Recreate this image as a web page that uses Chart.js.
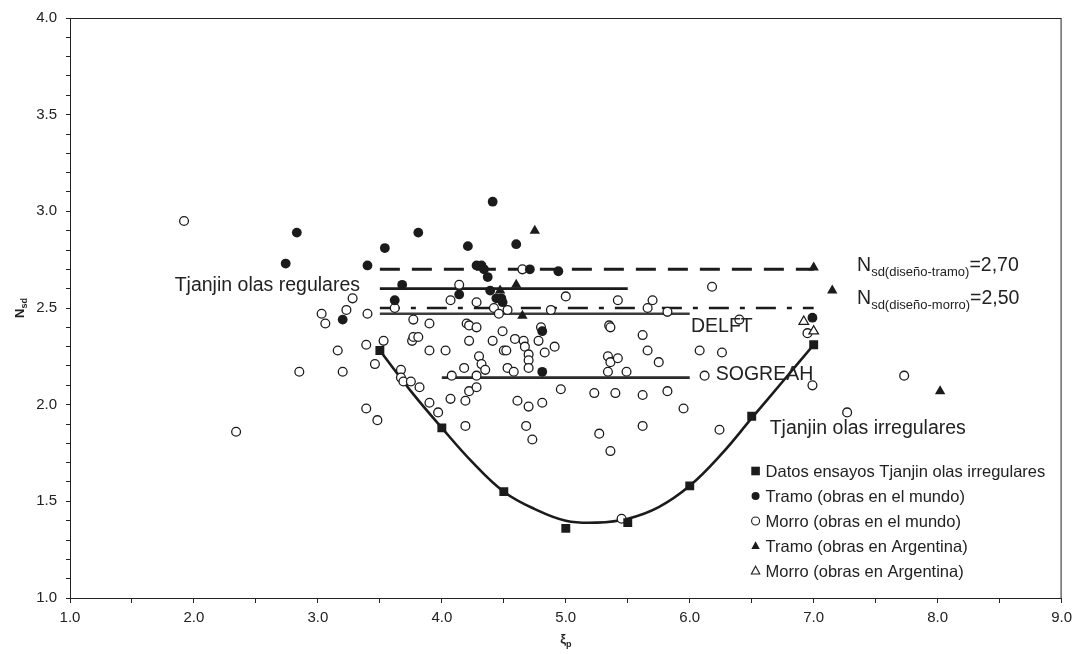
<!DOCTYPE html>
<html>
<head>
<meta charset="utf-8">
<script src="https://cdn.jsdelivr.net/npm/chart.js@4.4.1/dist/chart.umd.min.js"></script>
<style>
  html, body { margin: 0; padding: 0; background: #fff; }
</style>
</head>
<body>
<canvas id="grafico" width="1078" height="654"></canvas>
<script>
// Datos
var curvaX = [3.5, 3.75, 4.0, 4.25, 4.5, 4.75, 5.0, 5.25, 5.5, 5.75, 6.0, 6.25, 6.5, 6.75, 7.0];
var curvaY = [2.28, 2.07, 1.88, 1.70, 1.55, 1.46, 1.40, 1.39, 1.41, 1.47, 1.58, 1.74, 1.93, 2.12, 2.31];

var ensayos = [[3.5, 2.28], [4.0, 1.88], [4.5, 1.55], [5.0, 1.36], [5.5, 1.39], [6.0, 1.58], [6.5, 1.94], [7.0, 2.31]];

var tramoMundo = [
  [2.74, 2.73], [2.83, 2.89], [3.20, 2.44], [3.40, 2.72], [3.54, 2.81], [3.62, 2.54], [3.68, 2.62],
  [3.81, 2.89], [4.14, 2.57], [4.21, 2.82], [4.28, 2.72], [4.32, 2.72], [4.34, 2.70], [4.37, 2.66],
  [4.39, 2.59], [4.41, 3.05], [4.44, 2.55], [4.48, 2.55], [4.49, 2.53], [4.60, 2.83], [4.71, 2.70],
  [4.81, 2.38], [4.81, 2.17], [4.94, 2.69], [6.99, 2.45]
];

var morroMundo = [
  [1.92, 2.95], [2.34, 1.86], [2.85, 2.17], [3.03, 2.47], [3.06, 2.42], [3.16, 2.28], [3.20, 2.17],
  [3.23, 2.49], [3.28, 2.55], [3.39, 2.31], [3.39, 1.98], [3.40, 2.47], [3.46, 2.21], [3.48, 1.92],
  [3.53, 2.33], [3.62, 2.50], [3.67, 2.18], [3.67, 2.14], [3.69, 2.12], [3.75, 2.12], [3.76, 2.33],
  [3.77, 2.35], [3.77, 2.44], [3.81, 2.35], [3.82, 2.09], [3.90, 2.42], [3.90, 2.28], [3.90, 2.01],
  [3.97, 1.96], [4.03, 2.28], [4.07, 2.54], [4.07, 2.03], [4.08, 2.15], [4.14, 2.62], [4.18, 2.19],
  [4.19, 2.02], [4.19, 1.89], [4.20, 2.42], [4.22, 2.41], [4.22, 2.33], [4.22, 2.07], [4.28, 2.53],
  [4.28, 2.40], [4.28, 2.15], [4.28, 2.09], [4.30, 2.25], [4.32, 2.21], [4.35, 2.18], [4.41, 2.33],
  [4.42, 2.50], [4.46, 2.47], [4.49, 2.38], [4.50, 2.28], [4.52, 2.28], [4.53, 2.49], [4.53, 2.19],
  [4.58, 2.17], [4.59, 2.34], [4.61, 2.02], [4.65, 2.70], [4.66, 2.33], [4.67, 2.30], [4.68, 1.89],
  [4.70, 2.26], [4.70, 2.23], [4.70, 2.19], [4.70, 1.99], [4.73, 1.82], [4.78, 2.33], [4.80, 2.40],
  [4.81, 2.01], [4.83, 2.27], [4.88, 2.49], [4.91, 2.30], [4.96, 2.08], [5.00, 2.56], [5.23, 2.06],
  [5.27, 1.85], [5.34, 2.25], [5.34, 2.17], [5.35, 2.41], [5.36, 2.40], [5.36, 2.22], [5.36, 1.76],
  [5.40, 2.06], [5.42, 2.54], [5.42, 2.24], [5.45, 1.41], [5.49, 2.17], [5.62, 2.36], [5.62, 2.05],
  [5.62, 1.89], [5.66, 2.50], [5.66, 2.28], [5.70, 2.54], [5.75, 2.22], [5.82, 2.48], [5.82, 2.07],
  [5.95, 1.98], [6.08, 2.28], [6.12, 2.15], [6.18, 2.61], [6.24, 1.87], [6.26, 2.27], [6.40, 2.44],
  [6.95, 2.37], [6.99, 2.10], [7.27, 1.96], [7.73, 2.15]
];

var tramoArgentina = [[4.47, 2.59], [4.60, 2.62], [4.65, 2.46], [4.75, 2.90], [7.00, 2.71], [7.15, 2.59], [8.02, 2.07]];
var morroArgentina = [[6.92, 2.43], [7.00, 2.38]];

// Lineas horizontales de referencia [xInicio, xFin], nivel
var tramoDisenoX = [3.5, 7.0], tramoDisenoY = 2.70;
var regularesX = [3.5, 5.5], regularesY = 2.60;
var morroDisenoX = [3.5, 7.0], morroDisenoY = 2.50;
var delftX = [3.5, 6.0], delftY = 2.47;
var sogreahX = [4.0, 6.0], sogreahY = 2.14;

var xTicksMin = 1, xTicksMax = 9;
var yTicksMin = 1, yTicksMax = 4;

var FUENTE = '"Liberation Sans", Arial, sans-serif';
var NEGRO = '#1b1b1b';

function puntos(arr) {
  return arr.map(function(p) { return { x: p[0], y: p[1] }; });
}
function horizontal(xs, y) {
  return [{ x: xs[0], y: y }, { x: xs[1], y: y }];
}
function lineaRef(data, ancho, dash, color) {
  return {
    type: 'line', data: data, showLine: true, borderColor: color || NEGRO, borderWidth: ancho,
    borderDash: dash || [], pointRadius: 0, fill: false, order: 2, esLeyenda: false
  };
}

var curva = curvaX.map(function(x, i) { return { x: x, y: curvaY[i] }; });

// Textos sobre el grafico (anclados a valores de los ejes)
var notas = [
  { partes: [['Tjanjin olas regulares', 19.5, 0]], x: 3.34, y: 2.625, alinear: 'right' },
  { partes: [['N', 19.5, 0], ['sd(diseño-tramo)', 13, 5], ['=2,70', 19.5, 0]], x: 7.35, y: 2.73 },
  { partes: [['N', 19.5, 0], ['sd(diseño-morro)', 13, 5], ['=2,50', 19.5, 0]], x: 7.35, y: 2.555 },
  { partes: [['DELFT', 19.5, 0]], x: 6.01, y: 2.41 },
  { partes: [['SOGREAH', 19.5, 0]], x: 6.21, y: 2.165 },
  { partes: [['Tjanjin olas irregulares', 19.5, 0]], x: 6.645, y: 1.885 }
];

function anchoPartes(ctx, partes, peso) {
  var w = 0;
  partes.forEach(function(p) {
    ctx.font = (peso || '') + ' ' + p[1] + 'px ' + FUENTE;
    w += ctx.measureText(p[0]).width;
  });
  return w;
}
function dibujarPartes(ctx, partes, x, base, peso) {
  partes.forEach(function(p) {
    ctx.font = (peso || '') + ' ' + p[1] + 'px ' + FUENTE;
    ctx.fillText(p[0], x, base + p[2]);
    x += ctx.measureText(p[0]).width;
  });
}

function marca(ctx, estilo, x, y, r, relleno) {
  ctx.beginPath();
  if (estilo === 'rect') {
    ctx.rect(x - r, y - r, 2 * r, 2 * r);
  } else if (estilo === 'triangle') {
    ctx.moveTo(x, y - r * 1.15);
    ctx.lineTo(x + r, y + r * 0.7);
    ctx.lineTo(x - r, y + r * 0.7);
    ctx.closePath();
  } else {
    ctx.arc(x, y, r, 0, Math.PI * 2);
  }
  ctx.fillStyle = relleno ? NEGRO : '#fff';
  ctx.fill();
  if (!relleno) {
    ctx.lineWidth = 1.1;
    ctx.strokeStyle = NEGRO;
    ctx.stroke();
  }
}

var extras = {
  id: 'extras',
  afterDraw: function(chart) {
    var ctx = chart.ctx, a = chart.chartArea;
    var sx = chart.scales.x, sy = chart.scales.y;
    ctx.save();

    // marco
    ctx.strokeStyle = '#222';
    ctx.lineWidth = 1;
    ctx.strokeRect(a.left + 0.5, a.top + 0.5, a.right - a.left - 1, a.bottom - a.top);

    // notas
    ctx.fillStyle = '#222';
    ctx.textBaseline = 'alphabetic';
    ctx.textAlign = 'left';
    notas.forEach(function(n) {
      var px = sx.getPixelForValue(n.x);
      var py = sy.getPixelForValue(n.y) + 0.36 * n.partes[0][1];
      if (n.alinear === 'right') px -= anchoPartes(ctx, n.partes);
      dibujarPartes(ctx, n.partes, px, py);
    });

    // leyenda
    var lx = a.right - 306, ly = a.bottom - 127;
    chart.data.datasets.forEach(function(ds) {
      if (!ds.esLeyenda) return;
      var r = ds.pointStyle === 'rect' ? 4.3 : (ds.pointStyle === 'triangle' ? 4.2 : 4);
      marca(ctx, ds.pointStyle, lx, ly, r, ds.backgroundColor !== '#fff');
      ctx.fillStyle = '#222';
      ctx.font = '16.5px ' + FUENTE;
      ctx.textBaseline = 'middle';
      ctx.fillText(ds.label, lx + 10, ly + 1);
      ly += 25;
    });

    // titulos de ejes
    ctx.textBaseline = 'alphabetic';
    ctx.fillStyle = '#222';
    var tx = [['ξ', 13, 0], ['p', 9, 4]];
    var wx = anchoPartes(ctx, tx, 'bold');
    dibujarPartes(ctx, tx, (a.left + a.right) / 2 - wx / 2, 643, 'bold');

    var ty = [['N', 13, 0], ['sd', 9, 3]];
    var wy = anchoPartes(ctx, ty, 'bold');
    ctx.translate(24, (a.top + a.bottom) / 2);
    ctx.rotate(-Math.PI / 2);
    dibujarPartes(ctx, ty, -wy / 2, 0, 'bold');
    ctx.restore();
  }
};

var ctx = document.getElementById('grafico').getContext('2d');
var grafico = new Chart(ctx, {
  type: 'scatter',
  data: {
    datasets: [
      {
        label: 'Datos ensayos Tjanjin olas irregulares', data: puntos(ensayos), pointStyle: 'rect',
        pointRadius: 6.3, backgroundColor: NEGRO, borderColor: NEGRO, borderWidth: 0, order: 0, esLeyenda: true
      },
      {
        label: 'Tramo (obras en el mundo)', data: puntos(tramoMundo), pointStyle: 'circle',
        pointRadius: 4.9, backgroundColor: NEGRO, borderColor: NEGRO, borderWidth: 0, order: 1, esLeyenda: true
      },
      {
        label: 'Morro (obras en el mundo)', data: puntos(morroMundo), pointStyle: 'circle',
        pointRadius: 4.4, backgroundColor: '#fff', borderColor: NEGRO, borderWidth: 1.3, order: 1, esLeyenda: true
      },
      {
        label: 'Tramo (obras en Argentina)', data: puntos(tramoArgentina), pointStyle: 'triangle',
        pointRadius: 6, backgroundColor: NEGRO, borderColor: NEGRO, borderWidth: 0, order: 0, esLeyenda: true
      },
      {
        label: 'Morro (obras en Argentina)', data: puntos(morroArgentina), pointStyle: 'triangle',
        pointRadius: 5.5, backgroundColor: '#fff', borderColor: NEGRO, borderWidth: 1.3, order: 0, esLeyenda: true
      },
      Object.assign(lineaRef(curva, 2.6), { tension: 0.4 }),
      lineaRef(horizontal(tramoDisenoX, tramoDisenoY), 3, [20, 12]),
      lineaRef(horizontal(regularesX, regularesY), 2.8),
      lineaRef(horizontal(morroDisenoX, morroDisenoY), 2.6, [20, 11, 5, 11]),
      lineaRef(horizontal(delftX, delftY), 2.6, [], '#3c3c3c'),
      lineaRef(horizontal(sogreahX, sogreahY), 2.6, [], '#2a2a2a')
    ]
  },
  options: {
    responsive: false,
    animation: false,
    devicePixelRatio: 1,
    layout: { padding: { left: 0, right: 16, top: 13, bottom: 0 } },
    plugins: { legend: { display: false }, tooltip: { enabled: false } },
    scales: {
      x: {
        type: 'linear', min: xTicksMin, max: xTicksMax,
        afterFit: function(s) { s.height = 56; },
        grid: { display: true, drawOnChartArea: false, drawTicks: true, tickLength: 5, color: '#222' },
        border: { display: true, color: '#222', width: 1 },
        ticks: {
          stepSize: 0.5, autoSkip: false, maxRotation: 0, padding: 6, color: '#222',
          font: { family: FUENTE, size: 15 },
          callback: function(v) { return Math.abs(v - Math.round(v)) < 1e-6 ? Number(v).toFixed(1) : ''; }
        }
      },
      y: {
        type: 'linear', min: yTicksMin, max: yTicksMax,
        afterFit: function(s) { s.width = 70; },
        grid: { display: true, drawOnChartArea: false, drawTicks: true, tickLength: 4, color: '#222' },
        border: { display: true, color: '#222', width: 1 },
        ticks: {
          stepSize: 0.1, autoSkip: false, padding: 9, color: '#222',
          font: { family: FUENTE, size: 15 },
          callback: function(v) { var k = Math.round(v * 10); return k % 5 === 0 ? (k / 10).toFixed(1) : ''; }
        }
      }
    }
  },
  plugins: [extras]
});
</script>
</body>
</html>
